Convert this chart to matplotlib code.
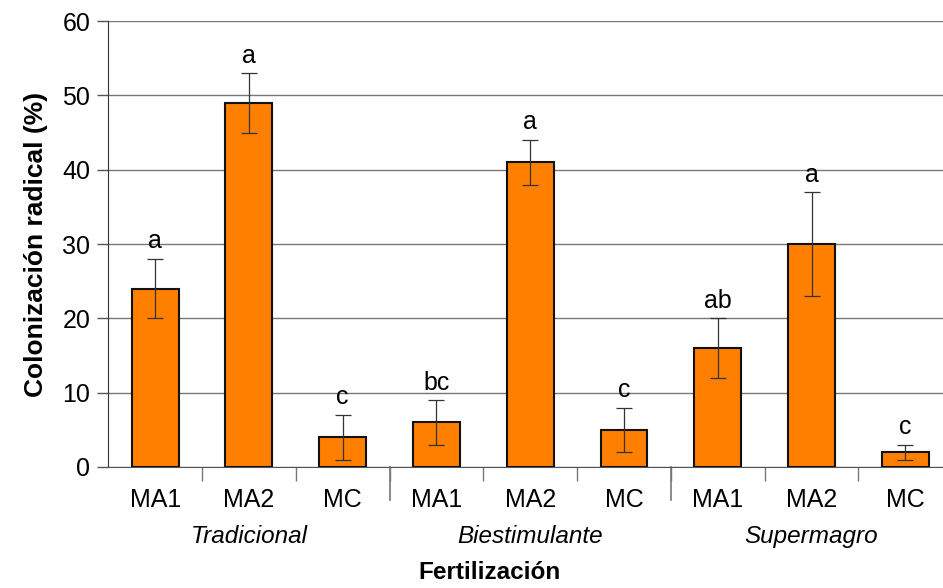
import numpy as np
import matplotlib.pyplot as plt
import matplotlib.transforms as mtransforms

plt.rcParams['font.family'] = ['Liberation Sans', 'DejaVu Sans']

treatments = ['MA1', 'MA2', 'MC', 'MA1', 'MA2', 'MC', 'MA1', 'MA2', 'MC']
groups = ['Tradicional', 'Biestimulante', 'Supermagro']
colonizacion = [24, 49, 4, 6, 41, 5, 16, 30, 2]
error = [4, 4, 3, 3, 3, 3, 4, 7, 1]
letters = ['a', 'a', 'c', 'bc', 'a', 'c', 'ab', 'a', 'c']

x = np.arange(len(treatments))

fig = plt.figure(figsize=(9.43, 5.88), dpi=100)
# the plot area runs slightly past the right edge of the picture
ax = fig.add_axes([0.1148, 0.2058, 0.895, 0.7582])

ax.bar(x, colonizacion, width=0.5, color='#FF8000', edgecolor='#111111',
       linewidth=1.5, zorder=3)
ax.errorbar(x, colonizacion, yerr=error, fmt='none', ecolor='#333333',
            elinewidth=0.9, capsize=6, capthick=0.9, zorder=4)

for xi, v, e, lab in zip(x, colonizacion, error, letters):
    ax.annotate(lab, (xi, v + e), xytext=(0, 4), textcoords='offset points',
                ha='center', va='bottom', fontsize=18)

ax.set_xlim(-0.5, len(treatments) - 0.5)
ax.set_ylim(0, 60)
ax.set_yticks(np.arange(0, 61, 10))
ax.yaxis.grid(True, color='#777777', linewidth=1.0, zorder=0)
ax.tick_params(axis='y', labelsize=18, length=8, width=1, color='#555555', pad=5)

ax.set_xticks(x)
ax.set_xticklabels(treatments, fontsize=18)
ax.tick_params(axis='x', which='major', length=0, pad=15)
ax.set_xticks(np.arange(0.5, len(treatments) - 1, 1), minor=True)
ax.tick_params(axis='x', which='minor', length=10, width=1, color='#777777')

for s in ['top', 'right']:
    ax.spines[s].set_visible(False)
ax.spines['left'].set_color('#333333')
ax.spines['bottom'].set_color('#555555')

trans = mtransforms.blended_transform_factory(ax.transData, ax.transAxes)
for b in [2.5, 5.5]:
    ax.plot([b, b], [0, -0.073], transform=trans, color='#777777',
            linewidth=1.2, clip_on=False)

for i, g in enumerate(groups):
    ax.text(3 * i + 1, -0.155, g, transform=trans, ha='center', va='center',
            fontsize=17.5, style='italic')

ax.set_ylabel('Colonización radical (%)', fontsize=19, fontweight='bold', labelpad=10)
fig.text(0.519, 0.026, 'Fertilización', ha='center', va='center',
         fontsize=17.5, fontweight='bold')

plt.savefig('out.png', dpi=100)
